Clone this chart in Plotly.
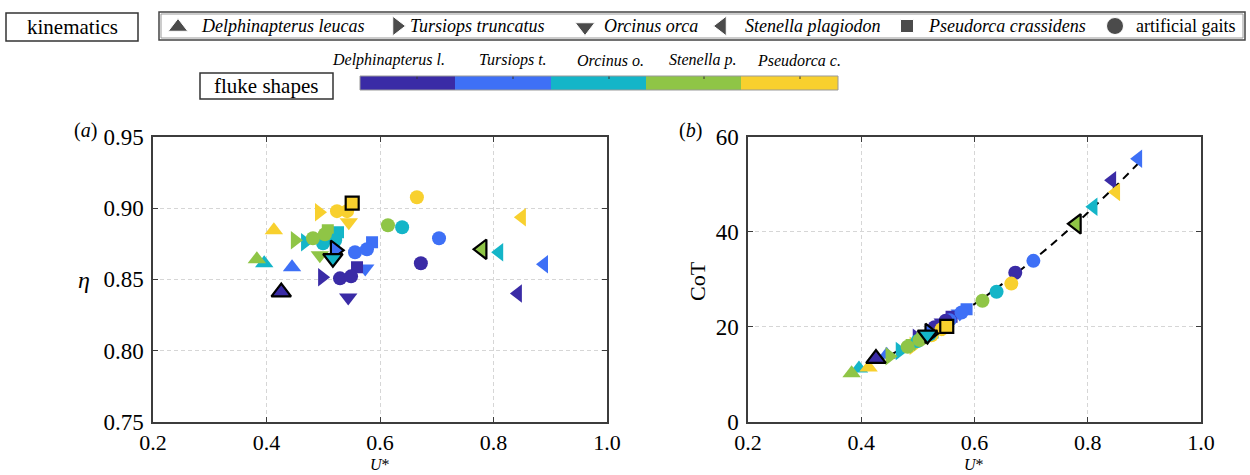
import numpy as np
import plotly.graph_objects as go

# ---------------- data ----------------
fluke_labels = ["Delphinapterus l.", "Tursiops t.", "Orcinus o.", "Stenella p.", "Pseudorca c."]
fluke_colors = ["#3a2ba6", "#3e70f6", "#14b5c8", "#8fc546", "#f8d02e"]

kin_labels = ["Delphinapterus leucas", "Tursiops truncatus", "Orcinus orca",
              "Stenella plagiodon", "Pseudorca crassidens", "artificial gaits"]
kin_symbols = ["triangle-up", "triangle-right", "triangle-down", "triangle-left", "square", "circle"]

# values ordered by fluke shape (Delphinapterus, Tursiops, Orcinus, Stenella, Pseudorca)
u_leucas = [0.426, 0.445, 0.396, 0.383, 0.413]
eta_leucas = [0.841, 0.8585, 0.8613, 0.8641, 0.8845]
cot_leucas = [13.3, 14.1, 11.2, 10.2, 11.4]

u_truncatus = [0.498, 0.521, 0.468, 0.450, 0.4925]
eta_truncatus = [0.8514, 0.8704, 0.8761, 0.8775, 0.8972]
cot_truncatus = [17.7, 18.6, 14.9, 13.8, 16.0]

u_orca = [0.544, 0.574, 0.517, 0.494, 0.545]
eta_orca = [0.8373, 0.8577, 0.8648, 0.8669, 0.8901]
cot_orca = [20.9, 22.8, 18.3, 16.6, 19.7]

u_plagiodon = [0.843, 0.889, 0.810, 0.780, 0.850]
eta_plagiodon = [0.8401, 0.8606, 0.869, 0.8711, 0.8937]
cot_plagiodon = [50.9, 55.4, 45.3, 41.7, 48.4]

u_crassidens = [0.5595, 0.586, 0.526, 0.508, 0.551]
eta_crassidens = [0.8585, 0.8761, 0.8831, 0.8845, 0.9035]
cot_crassidens = [22.1, 23.7, 18.8, 17.6, 20.1]

u_gait1 = [0.5295, 0.556, 0.4996, 0.4819, 0.5242]
eta_gait1 = [0.8507, 0.869, 0.8754, 0.8789, 0.8979]
cot_gait1 = [19.9, 21.4, 17.0, 15.8, 18.2]

u_gait2 = [0.549, 0.577, 0.521, 0.503, 0.542]
eta_gait2 = [0.8521, 0.8711, 0.8775, 0.8817, 0.8979]
cot_gait2 = [21.3, 23.0, 18.4, 17.2, 19.5]

u_gait3 = [0.672, 0.704, 0.639, 0.614, 0.665]
eta_gait3 = [0.8613, 0.8789, 0.8866, 0.888, 0.9077]
cot_gait3 = [31.4, 33.9, 27.4, 25.5, 29.1]

x_ticks = [0.2, 0.4, 0.6, 0.8, 1.0]
eta_ticks = [0.75, 0.80, 0.85, 0.90, 0.95]
cot_ticks = [0, 20, 40, 60]

# ---------------- figure ----------------
W, H = 1250, 475
SERIF = "Liberation Serif"
fig = go.Figure()

species = [
    (u_leucas, eta_leucas, cot_leucas, 0),
    (u_truncatus, eta_truncatus, cot_truncatus, 1),
    (u_orca, eta_orca, cot_orca, 2),
    (u_plagiodon, eta_plagiodon, cot_plagiodon, 3),
    (u_crassidens, eta_crassidens, cot_crassidens, 4),
]
gaits = [(u_gait1, eta_gait1, cot_gait1), (u_gait2, eta_gait2, cot_gait2), (u_gait3, eta_gait3, cot_gait3)]

def msize(sym):
    return {"square": 12, "circle": 14}.get(sym, 16)

# dashed fit in panel b (least-squares CoT = k U*^2 over all points)
all_u = np.concatenate([np.array(s[0]) for s in species] + [np.array(g[0]) for g in gaits])
all_c = np.concatenate([np.array(s[2]) for s in species] + [np.array(g[2]) for g in gaits])
k = np.sum(all_c * all_u**2) / np.sum(all_u**4)
fit_u = np.linspace(all_u.min(), all_u.max() + 0.008, 80)
fit_c = k * fit_u**2

for panel, (xa, ya) in enumerate([("x", "y"), ("x2", "y2")]):
    if panel == 1:
        fig.add_trace(go.Scatter(x=fit_u, y=fit_c, mode="lines", xaxis=xa, yaxis=ya,
                                 line=dict(color="black", width=2, dash="8px,6px"),
                                 showlegend=False, hoverinfo="skip"))
    for (u, e, c, own) in species:
        sym = kin_symbols[own]
        idx = [i for i in range(5) if i != own]
        fig.add_trace(go.Scatter(
            x=[u[i] for i in idx], y=[(e if panel == 0 else c)[i] for i in idx],
            mode="markers", xaxis=xa, yaxis=ya, showlegend=False,
            marker=dict(symbol=sym, size=msize(sym), color=[fluke_colors[i] for i in idx],
                        line=dict(width=0))))
    for (u, e, c) in gaits:
        fig.add_trace(go.Scatter(
            x=u, y=(e if panel == 0 else c), mode="markers", xaxis=xa, yaxis=ya, showlegend=False,
            marker=dict(symbol="circle", size=14, color=fluke_colors, line=dict(width=0))))
    for (u, e, c, own) in species:
        sym = kin_symbols[own]
        fig.add_trace(go.Scatter(
            x=[u[own]], y=[(e if panel == 0 else c)[own]], mode="markers", xaxis=xa, yaxis=ya,
            showlegend=False,
            marker=dict(symbol=sym, size=msize(sym) + 1, color=fluke_colors[own],
                        line=dict(width=2.2, color="black"))))

# ---------------- overlay (pixel) axis for legends ----------------
leg_x = [178, 397, 585, 722, 907, 1115]
leg_txt_x = [199, 408, 602, 743, 926, 1134]
leg_sizes = [17, 17, 17, 17, 13, 17]
fig.add_trace(go.Scatter(x=leg_x, y=[27, 26, 27, 26, 26, 26], mode="markers", xaxis="x3", yaxis="y3",
                         showlegend=False, hoverinfo="skip",
                         marker=dict(symbol=kin_symbols, size=leg_sizes, color="black")))

shapes = []
annotations = []
# kinematics box
shapes.append(dict(type="rect", xref="x3", yref="y3", x0=6, x1=138, y0=13, y1=41,
                   line=dict(color="#333", width=1.5)))
annotations.append(dict(xref="x3", yref="y3", x=72, y=27, text="kinematics", showarrow=False,
                        font=dict(family=SERIF, size=21, color="black")))
# species legend box (double line)
shapes.append(dict(type="rect", xref="x3", yref="y3", x0=159, x1=1245, y0=12, y1=40,
                   line=dict(color="#444", width=1.5)))
shapes.append(dict(type="rect", xref="x3", yref="y3", x0=161, x1=1243, y0=14, y1=38,
                   line=dict(color="#999", width=1)))
for i, lab in enumerate(kin_labels):
    txt = lab if i == 5 else "<i>" + lab + "</i>"
    annotations.append(dict(xref="x3", yref="y3", x=leg_txt_x[i], y=26, text=txt, showarrow=False,
                            xanchor="left", font=dict(family=SERIF, size=18, color="black")))
# fluke shapes box
shapes.append(dict(type="rect", xref="x3", yref="y3", x0=200, x1=333, y0=73, y1=99,
                   line=dict(color="#333", width=1.5)))
annotations.append(dict(xref="x3", yref="y3", x=266, y=86, text="fluke shapes", showarrow=False,
                        font=dict(family=SERIF, size=21, color="black")))
# colour bar
cb_edges = [360, 455, 551, 646, 741, 838]
cb_ticks = [417, 513, 609, 704, 800]
cb_label_x = [388, 513, 610, 703, 799]
for i in range(5):
    shapes.append(dict(type="rect", xref="x3", yref="y3", x0=cb_edges[i], x1=cb_edges[i + 1],
                       y0=76, y1=90, fillcolor=fluke_colors[i], line=dict(width=0), layer="above"))
    shapes.append(dict(type="line", xref="x3", yref="y3", x0=cb_ticks[i], x1=cb_ticks[i],
                       y0=76, y1=79, line=dict(color="#333", width=1)))
    annotations.append(dict(xref="x3", yref="y3", x=cb_label_x[i], y=60, text="<i>" + fluke_labels[i] + "</i>",
                            showarrow=False, font=dict(family=SERIF, size=16, color="black")))
shapes.append(dict(type="rect", xref="x3", yref="y3", x0=360, x1=838, y0=76, y1=90,
                   line=dict(color="#999", width=1)))

# panel labels and axis titles
annotations += [
    dict(xref="x3", yref="y3", x=85, y=130, text="(<i>a</i>)", showarrow=False,
         font=dict(family=SERIF, size=20, color="black")),
    dict(xref="x3", yref="y3", x=690, y=130, text="(<i>b</i>)", showarrow=False,
         font=dict(family=SERIF, size=20, color="black")),
    dict(xref="x3", yref="y3", x=84, y=280, text="<i>η</i>", showarrow=False,
         font=dict(family=SERIF, size=24, color="black")),
    dict(xref="x3", yref="y3", x=697, y=281, text="CoT", showarrow=False, textangle=-90,
         font=dict(family=SERIF, size=22, color="black")),
    dict(xref="x3", yref="y3", x=380, y=475, text="<i>U</i>*", showarrow=False, yanchor="bottom",
         font=dict(family=SERIF, size=16, color="black")),
    dict(xref="x3", yref="y3", x=974, y=475, text="<i>U</i>*", showarrow=False, yanchor="bottom",
         font=dict(family=SERIF, size=16, color="black")),
]

axis_common = dict(showline=True, linecolor="#3c3c3c", linewidth=1.5, mirror="ticks",
                   ticks="inside", ticklen=5, tickcolor="#3c3c3c", tickwidth=1,
                   showgrid=True, gridcolor="#d6d6d6", gridwidth=1, griddash="4px,3px",
                   zeroline=False, automargin=False)

tick_font = dict(family=SERIF, size=23, color="black")
xtick_font = dict(family=SERIF, size=22, color="black")

ydom = [1 - 421.7 / H, 1 - 137 / H]
fig.update_layout(
    template="none",
    width=W, height=H, margin=dict(l=0, r=0, t=0, b=0, pad=0), autosize=False,
    paper_bgcolor="white", plot_bgcolor="rgba(0,0,0,0)",
    font=dict(family=SERIF, color="black"),
    showlegend=False,
    xaxis=dict(domain=[153 / W, 607 / W], range=[0.2, 1.0], tickvals=x_ticks, tickformat=".1f",
               anchor="y", ticklabelstandoff=0, tickfont=xtick_font, **axis_common),
    yaxis=dict(domain=ydom, range=[0.75, 0.95], tickvals=eta_ticks, tickformat=".2f",
               anchor="x", ticklabelstandoff=3, tickfont=tick_font, **axis_common),
    xaxis2=dict(domain=[748 / W, 1201 / W], range=[0.2, 1.0], tickvals=x_ticks, tickformat=".1f",
                anchor="y2", ticklabelstandoff=0, tickfont=xtick_font, **axis_common),
    yaxis2=dict(domain=ydom, range=[0, 60], tickvals=cot_ticks,
                anchor="x2", ticklabelstandoff=3, tickfont=tick_font, **axis_common),
    xaxis3=dict(domain=[0, 1], range=[0, W], visible=False, fixedrange=True, anchor="y3", automargin=False),
    yaxis3=dict(domain=[0, 1], range=[H, 0], visible=False, fixedrange=True, anchor="x3", automargin=False),
    shapes=shapes, annotations=annotations,
)

fig.write_html("out.html", config={"displayModeBar": False},
               post_script="document.body.style.margin='0px';")
